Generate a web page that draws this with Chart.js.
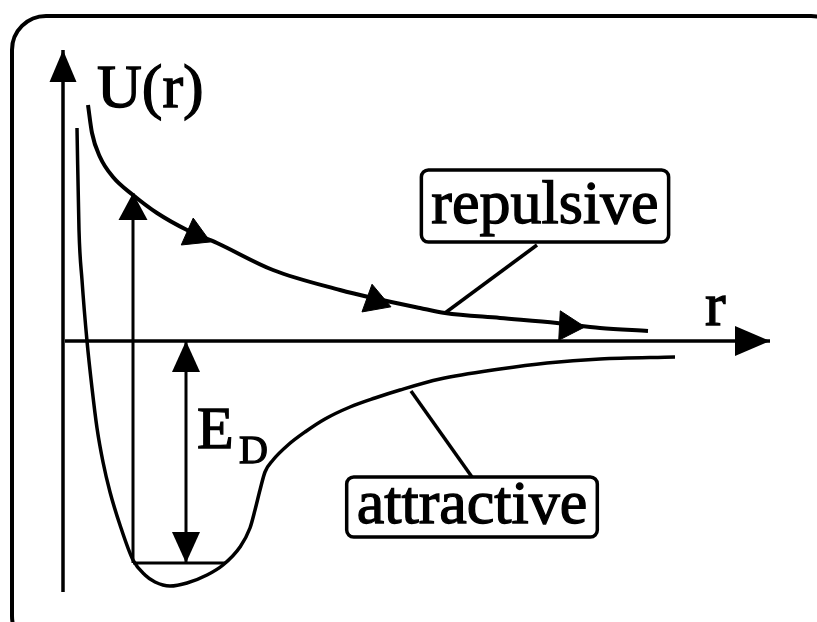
<!DOCTYPE html>
<html>
<head>
<meta charset="utf-8">
<script src="https://cdn.jsdelivr.net/npm/chart.js@4.4.1/dist/chart.umd.min.js"></script>
<style>
  html, body { margin: 0; padding: 0; background: #fff; overflow: hidden; }
  #wrap { width: 817px; height: 622px; }
  canvas { display: block; }
</style>
</head>
<body>
<div id="wrap"><canvas id="potChart" width="817" height="622"></canvas></div>
<script>
// potential curves, r along the bottom and U(r) up the side (sketch units)
const repR = [0.25, 0.29, 0.37, 0.50, 0.70, 0.94, 1.24, 1.54, 2.10, 2.77, 3.10, 3.57, 3.82, 4.37, 4.94, 5.37, 5.85];
const repU = [2.36, 2.08, 1.84, 1.64, 1.46, 1.28, 1.11, 0.98, 0.71, 0.51, 0.43, 0.33, 0.28, 0.23, 0.18, 0.13, 0.10];

const attR = [0.14, 0.16, 0.19, 0.24, 0.29, 0.34, 0.40, 0.47, 0.57, 0.70, 0.82, 0.92, 1.07, 1.24, 1.44, 1.60, 1.77,
              1.87, 1.92, 1.97, 2.02, 2.10, 2.25, 2.42, 2.62, 2.87, 3.12, 3.37, 3.77, 4.37, 4.84, 5.37, 6.12];
const attU = [2.13, 1.11, 0.61, 0.00, -0.47, -0.87, -1.21, -1.51, -1.84, -2.19, -2.34, -2.41, -2.45, -2.42, -2.34, -2.24, -2.06,
              -1.87, -1.69, -1.49, -1.31, -1.19, -1.04, -0.91, -0.78, -0.66, -0.57, -0.49, -0.38, -0.28, -0.22, -0.18, -0.16];

// arrow heads sitting on the repulsive curve
const markR = [1.32, 3.12, 5.05];
const markU = [1.06, 0.40, 0.15];
const markAngle = [114, 110, 93];

// axes and the E_D construction
const xAxisR = [0.02, 7.07], xAxisU = [0, 0];
const yAxisR = [0, 0], yAxisU = [-2.51, 2.91];
const edR = [1.23, 1.23], edU = [0, -2.22];
const upR = [0.70, 0.70], upU = [-2.22, 1.48];
const baseR = [0.70, 1.62], baseU = [-2.22, -2.22];

// leader lines from the label boxes to the curves
const repLeadR = [4.74, 3.82], repLeadU = [0.96, 0.28];
const attLeadR = [4.09, 3.48], attLeadU = [-1.36, -0.50];

// text
const labelText = ['U(r)', 'r', 'E', 'D', 'repulsive', 'attractive'];
const labelR = [0.34, 6.42, 1.34, 1.76, 4.82, 4.09];
const labelU = [2.34, 0.16, -1.07, -1.22, 1.18, -1.82];

const labelSize = [62, 62, 60, 40, 62, 62];
const labelAlign = ['left', 'left', 'left', 'left', 'center', 'center'];
const labelBox = [null, null, null, null, [53, 19], [46, 14]];

const pts = (xs, ys) => xs.map((x, i) => ({ x: x, y: ys[i] }));

function line(xs, ys, width, extra) {
    return Object.assign({
        data: pts(xs, ys),
        showLine: true,
        borderColor: '#000',
        borderWidth: width,
        pointRadius: 0,
        fill: false
    }, extra || {});
}

// filled arrow heads at the ends of a dataset
const arrowPlugin = {
    id: 'arrows',
    afterDatasetsDraw(chart) {
        const ctx = chart.ctx;
        chart.data.datasets.forEach((ds, i) => {
            if (!ds.arrowEnd && !ds.arrowStart) return;
            const p = chart.getDatasetMeta(i).data;
            const head = (tip, from) => {
                const a = Math.atan2(tip.y - from.y, tip.x - from.x);
                const L = ds.arrowLen, W = ds.arrowWidth / 2;
                const bx = tip.x - Math.cos(a) * L, by = tip.y - Math.sin(a) * L;
                ctx.beginPath();
                ctx.moveTo(tip.x, tip.y);
                ctx.lineTo(bx + Math.sin(a) * W, by - Math.cos(a) * W);
                ctx.lineTo(bx - Math.sin(a) * W, by + Math.cos(a) * W);
                ctx.closePath();
                ctx.fill();
            };
            ctx.save();
            ctx.fillStyle = '#000';
            if (ds.arrowEnd) head(p[p.length - 1], p[p.length - 2]);
            if (ds.arrowStart) head(p[0], p[1]);
            ctx.restore();
        });
    }
};

// rounded frame around the whole sketch (runs past the right and bottom edge)
const framePlugin = {
    id: 'frame',
    beforeDraw(chart) {
        const ctx = chart.ctx;
        const left = 12, top = 16, right = 845, bottom = 650, r = 34;
        ctx.save();
        ctx.fillStyle = '#fff';
        ctx.fillRect(0, 0, chart.width, chart.height);
        ctx.beginPath();
        ctx.moveTo(left + r, top);
        ctx.lineTo(right - r, top);
        ctx.arc(right - r, top + r, r, -Math.PI / 2, 0);
        ctx.lineTo(right, bottom - r);
        ctx.arc(right - r, bottom - r, r, 0, Math.PI / 2);
        ctx.lineTo(left + r, bottom);
        ctx.arc(left + r, bottom - r, r, Math.PI / 2, Math.PI);
        ctx.lineTo(left, top + r);
        ctx.arc(left + r, top + r, r, Math.PI, Math.PI * 1.5);
        ctx.closePath();
        ctx.lineWidth = 4;
        ctx.strokeStyle = '#000';
        ctx.stroke();
        ctx.restore();
    }
};

const labelPlugin = {
    id: 'labels',
    afterDraw(chart) {
        const ctx = chart.ctx;
        const sx = chart.scales.x, sy = chart.scales.y;
        ctx.save();
        ctx.fillStyle = '#000';
        ctx.strokeStyle = '#000';
        ctx.textBaseline = 'alphabetic';
        labelText.forEach((t, i) => {
            const x = sx.getPixelForValue(labelR[i]);
            const y = sy.getPixelForValue(labelU[i]);
            ctx.font = labelSize[i] + 'px "Liberation Serif", "Times New Roman", serif';
            ctx.textAlign = labelAlign[i];
            ctx.fillText(t, x, y);
            ctx.lineWidth = 1.3;
            ctx.strokeText(t, x, y);
            if (labelBox[i]) {
                const w = ctx.measureText(t).width + 20;
                const bx = x - w / 2, by = y - labelBox[i][0], bh = labelBox[i][0] + labelBox[i][1], r = 7;
                ctx.beginPath();
                ctx.moveTo(bx + r, by);
                ctx.arcTo(bx + w, by, bx + w, by + bh, r);
                ctx.arcTo(bx + w, by + bh, bx, by + bh, r);
                ctx.arcTo(bx, by + bh, bx, by, r);
                ctx.arcTo(bx, by, bx + w, by, r);
                ctx.closePath();
                ctx.lineWidth = 3.5;
                ctx.stroke();
            }
        });
        ctx.restore();
    }
};

new Chart(document.getElementById('potChart'), {
    type: 'scatter',
    data: {
        datasets: [
            line(yAxisR, yAxisU, 3.5, { arrowEnd: true, arrowLen: 32, arrowWidth: 27 }),
            line(xAxisR, xAxisU, 3.5, { arrowEnd: true, arrowLen: 35, arrowWidth: 30 }),
            line(repR, repU, 4, { cubicInterpolationMode: 'monotone' }),
            line(attR, attU, 3.5, { cubicInterpolationMode: 'monotone' }),
            line(edR, edU, 3, { arrowEnd: true, arrowStart: true, arrowLen: 31, arrowWidth: 28 }),
            line(upR, upU, 3, { arrowEnd: true, arrowLen: 27, arrowWidth: 29 }),
            line(baseR, baseU, 3),
            line(repLeadR, repLeadU, 3.5),
            line(attLeadR, attLeadU, 3.5),
            {
                data: pts(markR, markU),
                showLine: false,
                pointStyle: 'triangle',
                pointRadius: 17,
                pointRotation: markAngle,
                backgroundColor: '#000',
                borderColor: '#000',
                borderWidth: 1
            }
        ]
    },
    options: {
        responsive: false,
        animation: false,
        events: [],
        layout: { padding: 0, autoPadding: false },
        plugins: {
            legend: { display: false },
            tooltip: { enabled: false }
        },
        scales: {
            x: { type: 'linear', min: -0.63, max: 7.54, display: false },
            y: { type: 'linear', min: -2.81, max: 3.41, display: false }
        }
    },
    plugins: [framePlugin, arrowPlugin, labelPlugin]
});
</script>
</body>
</html>
